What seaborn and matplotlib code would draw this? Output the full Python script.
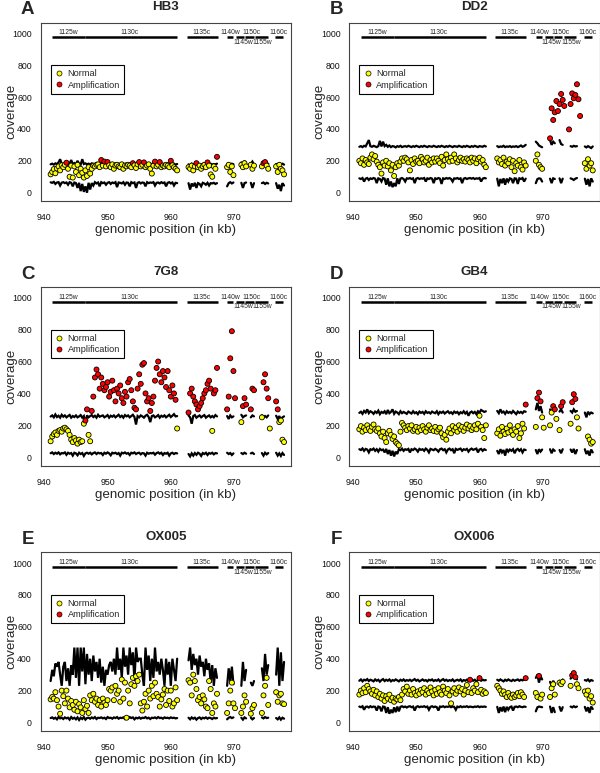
import numpy as np
import pandas as pd
import matplotlib
matplotlib.use("Agg")
import matplotlib.pyplot as plt
from matplotlib.lines import Line2D
import seaborn as sns

sns.set_theme(style="white")
plt.rcParams["font.family"] = ["Liberation Sans", "DejaVu Sans"]

n = np.nan

# ---------------- data ----------------
pos = [
    941.0, 941.25, 941.5, 941.75, 942.0, 942.25, 942.5, 942.75,
    943.0, 943.25, 943.5, 943.75, 944.0, 944.25, 944.5, 944.75,
    945.0, 945.25, 945.5, 945.75, 946.0, 946.25, 946.5, 946.75,
    947.0, 947.25, 947.5, 947.75, 948.0, 948.25, 948.5, 948.75,
    949.0, 949.25, 949.5, 949.75, 950.0, 950.25, 950.5, 950.75,
    951.0, 951.25, 951.5, 951.75, 952.0, 952.25, 952.5, 952.75,
    953.0, 953.25, 953.5, 953.75, 954.0, 954.25, 954.5, 954.75,
    955.0, 955.25, 955.5, 955.75, 956.0, 956.25, 956.5, 956.75,
    957.0, 957.25, 957.5, 957.75, 958.0, 958.25, 958.5, 958.75,
    959.0, 959.25, 959.5, 959.75, 960.0, 960.25, 960.5, 960.75,
    961.0,
    962.8, 963.05, 963.3, 963.55, 963.8, 964.05, 964.3, 964.55, 964.8, 965.05,
    965.3, 965.55, 965.8, 966.05, 966.3, 966.55, 966.8, 967.05, 967.3,
    968.9, 969.15, 969.4, 969.65, 969.9, 970.15, 970.4, 970.65, 970.9, 971.15,
    971.4, 971.65, 971.9, 972.15, 972.4, 972.65, 972.9, 973.15, 973.4, 973.65,
    973.9, 974.15, 974.4, 974.65, 974.9, 975.15, 975.4, 975.65, 975.9, 976.15,
    976.4, 976.65, 976.9, 977.15, 977.4, 977.65, 977.9,
]

panel_letters = ["A", "B", "C", "D", "E", "F"]
strains = ["HB3", "DD2", "7G8", "GB4", "OX005", "OX006"]

gene_names = ["1125w", "1130c", "1135c", "1140w", "1145w", "1150c", "1155w", "1160c"]
gene_start = [941.2, 946.5, 962.5, 968.9, 970.3, 971.8, 973.3, 976.5]
gene_end = [946.5, 961.0, 967.4, 969.9, 971.6, 973.1, 975.3, 977.8]
gene_label_below = [False, False, False, False, True, False, True, False]
gene_label_x = [943.8, 953.5, 964.8, 969.4, 971.4, 972.8, 974.5, 977.1]

# ---- HB3 ----
upper_hb3 = [
    178, 182, 176, 184, 180, 190, 210, 182,
    178, 185, 180, 176, 183, 205, 180, 186,
    178, 200, 182, 176, 210, 180, 184, 178,
    182, 176, 184, 180, 178, 186, 180, 176,
    184, 180, 178, 186, 180, 176, 184, 180,
    178, 184, 180, 176, 182, 186, 178, 180,
    184, 178, 180, 186, 176, 182, 180, 184,
    178, 180, 186, 176, 182, 180, 184, 178,
    180, 186, 178, 182, 176, 184, 180, 178,
    182, 176, 184, 180, 178, 186, 182, 176,
    180,
    178, 170, 182, 176, 180, 174, 182, 178, 176, 180,
    184, 176, 180, 178, 182, 176, 180, 178, 182,
    178, 185, 176, 182, 178, n, n, n, n, 190,
    176, 200, 180, n, n, 182, 195, 176, n, n,
    n, n, 180, 176, 184, 178, 182, n, n, n,
    n, 180, 176, 184, 178, 182, 176,
]
lower_hb3 = [
    65, 62, 68, 55, 64, 66, 45, 63,
    66, 60, 64, 50, 66, 62, 40, 64,
    60, 30, 62, 10, 55, 5, 40, 0,
    62, 20, 60, 45, 66, 58, 64, 40,
    66, 60, 64, 50, 62, 66, 55, 64,
    60, 66, 35, 64, 62, 58, 66, 50,
    64, 62, 40, 66, 60, 64, 30, 62,
    66, 58, 64, 62, 40, 66, 60, 64,
    62, 66, 45, 62, 64, 58, 66, 60,
    64, 40, 62, 66, 58, 64, 45, 62,
    60,
    60, 20, 58, 40, 62, 30, 60, 55, 40, 62,
    58, 50, 62, 45, 60, 58, 62, 55, 60,
    40, 60, 66, 58, 64, n, n, n, n, 62,
    30, 60, 64, n, n, 62, 30, 60, n, n,
    n, n, 60, 64, 55, 62, 58, n, n, n,
    n, 60, 25, 50, 10, 60, 45,
]
cov_hb3 = [
    115, 130, 148, 122, 152, 165, 140, 172,
    160, 175, 188, 150, 100, 170, 95, 165,
    130, 175, 110, 150, 125, 95, 140, 105,
    160, 120, 150, 170, 165, 175, 178, 160,
    205, 170, 195, 165, 192, 172, 160, 178,
    150, 170, 175, 165, 160, 178, 150, 170,
    165, 175, 170, 160, 185, 172, 155, 178,
    192, 165, 175, 190, 160, 170, 178, 150,
    120, 170, 195, 165, 175, 192, 160, 170,
    165, 175, 170, 160, 200, 172, 160, 150,
    140,
    160, 150, 170, 140, 165, 185, 160, 170, 150, 165,
    175, 160, 190, 170, 115, 100, 165, 150, 225,
    160, 175, 130, 165, 110, n, n, n, n, 175,
    160, 185, 165, n, n, 175, 150, 170, n, n,
    n, n, 165, 185, 192, 170, 150, n, n, n,
    n, 165, 130, 175, 150, 140, 115,
]

# ---- DD2 ----
upper_dd2 = [
    288, 292, 286, 294, 290, 310, 330, 292,
    288, 294, 290, 286, 292, 325, 290, 320,
    292, 300, 288, 296, 286, 292, 290, 284,
    292, 288, 294, 286, 290, 292, 288, 294,
    290, 286, 292, 288, 294, 290, 286, 292,
    288, 294, 290, 286, 292, 290, 288, 294,
    290, 286, 292, 288, 294, 290, 286, 292,
    288, 294, 290, 286, 292, 290, 288, 294,
    290, 286, 292, 288, 294, 290, 286, 292,
    288, 294, 290, 286, 292, 290, 288, 294,
    290,
    292, 286, 290, 288, 294, 286, 290, 288, 292, 286,
    290, 288, 292, 286, 290, 296, 288, 292, 300,
    320, 310, 296, 290, 285, n, n, n, n, 330,
    300, 320, 310, n, n, 330, 305, 300, n, n,
    n, n, 292, 288, 294, 290, 292, n, n, n,
    n, 290, 284, 292, 286, 280, 290,
]
lower_dd2 = [
    90, 86, 92, 70, 88, 92, 80, 90,
    86, 92, 88, 60, 90, 86, 70, 92,
    88, 50, 90, 40, 70, 35, 60, 40,
    90, 55, 88, 92, 86, 70, 90, 88,
    92, 86, 90, 60, 88, 92, 86, 90,
    88, 92, 70, 90, 86, 92, 88, 60,
    90, 86, 92, 88, 55, 90, 86, 92,
    88, 92, 86, 70, 90, 88, 92, 86,
    90, 60, 88, 92, 86, 90, 92, 88,
    92, 86, 90, 88, 92, 70, 88, 92,
    90,
    88, 40, 86, 60, 90, 50, 88, 70, 90, 86,
    60, 90, 88, 55, 90, 86, 92, 70, 88,
    60, 85, 90, 88, 70, n, n, n, n, 88,
    60, 90, 86, n, n, 90, 60, 88, n, n,
    n, n, 90, 86, 80, 88, 92, n, n, n,
    n, 88, 50, 86, 40, 90, 70,
]
cov_dd2 = [
    200, 185, 215, 175, 205, 190, 180, 220,
    240, 210, 230, 195, 175, 160, 120, 190,
    170, 200, 165, 185, 140, 175, 105, 160,
    185, 170, 195, 215, 200, 220, 210, 190,
    140, 205, 180, 215, 195, 200, 185, 225,
    210, 190, 200, 220, 175, 205, 190, 215,
    195, 215, 200, 185, 225, 170, 205, 240,
    210, 195, 220, 200, 240, 215, 190, 205,
    220, 200, 210, 195, 215, 205, 190, 220,
    200, 215, 185, 210, 220, 195, 205, 175,
    160,
    215, 190, 205, 180, 220, 170, 195, 185, 210, 160,
    200, 135, 185, 170, 205, 160, 145, 190, 170,
    200, 240, 175, 160, 150, n, n, n, n, 341,
    529, 456, 504, 575, 512, 556, 619, 582, 544, n,
    n, 397, 556, 623, 592, 613, 680, 586, 481, n,
    n, 185, 150, 210, 170, 185, 140,
]

# ---- 7G8 ----
upper_7g8 = [
    255, 262, 250, 268, 252, 260, 248, 266,
    254, 262, 250, 258, 265, 248, 258, 252,
    262, 250, 256, 264, 248, 258, 210, 262,
    250, 258, 264, 252, 260, 248, 266, 254,
    258, 262, 250, 256, 264, 248, 260, 254,
    262, 250, 258, 266, 252, 260, 248, 264,
    256, 262, 250, 258, 266, 252, 205, 258,
    250, 262, 256, 248, 260, 266, 252, 220,
    258, 262, 250, 256, 264, 248, 260, 254,
    262, 250, 258, 266, 252, 260, 270, 256,
    258,
    262, 250, 210, 258, 264, 248, 256, 262, 250, 258,
    264, 248, 256, 262, 250, 258, 250, 264, 256,
    258, 240, 262, 250, 256, n, n, n, n, 266,
    250, 258, 262, n, n, 250, 262, 256, n, n,
    n, n, 264, 248, 258, 250, 262, n, n, n,
    n, 260, 240, 258, 235, 250, 256,
]
lower_7g8 = [
    25, 30, 20, 28, 22, 30, 18, 26,
    24, 30, 15, 28, 22, 26, 10, 28,
    24, 12, 28, 20, 26, 8, 24, 28,
    22, 28, 18, 26, 30, 20, 28, 24,
    26, 14, 28, 22, 30, 24, 12, 28,
    24, 28, 20, 26, 10, 28, 24, 30,
    22, 26, 14, 28, 24, 30, 20, 26,
    28, 18, 26, 24, 10, 28, 22, 26,
    24, 28, 16, 26, 30, 22, 28, 14,
    26, 22, 28, 10, 24, 28, 20, 26,
    24,
    20, 5, 24, 10, 26, 15, 28, 22, 8, 26,
    20, 28, 14, 26, 22, 28, 18, 26, 24,
    28, 20, 26, 14, 24, n, n, n, n, 26,
    20, 28, 22, n, n, 24, 28, 20, n, n,
    n, n, 26, 10, 28, 18, 26, n, n, n,
    n, 28, 10, 24, 8, 26, 14,
]
cov_7g8 = [
    100, 130, 145, 155, 140, 165, 170, 160,
    180, 185, 175, 165, 140, 110, 95, 120,
    105, 85, 110, 95, 100, 210, 230, 300,
    140, 100, 290, 380, 500, 550, 520, 430,
    500, 460, 420, 440, 470, 380, 410, 480,
    420, 350, 430, 400, 450, 370, 340, 410,
    380, 470, 490, 420, 350, 310, 300, 430,
    520, 460, 580, 590, 400, 350, 370, 290,
    340, 380, 480, 560, 600, 520, 470, 540,
    500, 440, 540, 420, 380, 450, 400, 360,
    180,
    280, 400, 430, 380, 350, 330, 300, 320, 340, 370,
    400, 420, 460, 480, 430, 165, 400, 420, 560,
    300, 380, 620, 790, 540, 370, n, n, n, 220,
    320, 370, 330, n, n, 300, 430, 420, n, n,
    n, n, 250, 470, 520, 430, 370, 180, n, n,
    n, 350, 300, 220, 230, 110, 95,
]

# ---- GB4 ----
upper_gb4 = [
    278, 285, 272, 290, 280, 300, 276, 288,
    282, 272, 286, 278, 292, 270, 284, 278,
    288, 270, 296, 276, 284, 300, 272, 286,
    280, 270, 288, 276, 284, 278, 272, 286,
    280, 274, 288, 276, 282, 270, 286, 278,
    284, 272, 288, 278, 282, 274, 286, 280,
    276, 288, 270, 284, 278, 286, 274, 282,
    288, 276, 282, 272, 286, 278, 284, 270,
    282, 276, 288, 274, 284, 260, 280, 286,
    276, 284, 270, 288, 280, 296, 290, 284,
    288,
    290, 276, 300, 280, 286, 272, 288, 278, 284, 276,
    290, 280, 270, 286, 278, 284, 276, 288, 285,
    300, 340, 290, 320, 280, n, n, n, n, 300,
    280, 310, 290, n, n, 286, 300, 280, n, n,
    n, n, 290, 280, 300, 285, 290, n, n, n,
    n, 280, 250, 285, 270, 280, 275,
]
lower_gb4 = [
    50, 45, 55, 40, 52, 48, 30, 50,
    46, 54, 40, 50, 35, 52, 44, 48,
    30, 52, 20, 45, 10, 40, 5, 35,
    20, 50, 44, 54, 40, 50, 46, 52,
    30, 50, 45, 54, 48, 35, 52, 46,
    50, 40, 54, 46, 30, 52, 48, 44,
    52, 46, 35, 50, 54, 44, 50, 30,
    48, 54, 44, 50, 25, 52, 46, 50,
    54, 40, 50, 46, 52, 35, 48, 54,
    46, 50, 54, 30, 48, 52, 40, 50,
    45,
    40, 20, 50, 30, 45, 10, 52, 35, 48, 40,
    50, 25, 46, 52, 40, 50, 30, 48, 45,
    45, 20, 50, 35, 48, n, n, n, n, 50,
    25, 48, 40, n, n, 45, 25, 50, n, n,
    n, n, 48, 30, 52, 20, 45, n, n, n,
    n, 50, 20, 40, 10, 48, 30,
]
cov_gb4 = [
    175, 195, 160, 185, 170, 200, 180, 165,
    190, 205, 175, 165, 180, 150, 130, 160,
    120, 95, 150, 165, 140, 115, 130, 95,
    85, 75, 160, 215, 200, 185, 170, 195,
    180, 200, 165, 175, 190, 160, 185, 170,
    195, 175, 160, 185, 200, 170, 180, 165,
    190, 160, 175, 185, 150, 125, 140, 110,
    160, 180, 150, 195, 170, 185, 160, 200,
    175, 190, 165, 185, 205, 180, 195, 170,
    185, 200, 175, 210, 260, 190, 170, 120,
    200,
    150, 175, 135, 190, 160, 145, 180, 155, 200, 165,
    140, 175, 160, 195, 120, 150, 210, 180, 330,
    190, 370, 405, 350, 250, 185, n, n, n, 200,
    280, 320, 300, 240, n, 170, 320, 345, n, n,
    n, n, 210, 345, 395, 365, 250, 180, n, n,
    n, n, n, 130, 110, 85, 95,
]

# ---- OX005 ----
upper_ox005 = [
    260, 330, 290, 370, 350, 380, 300, 230,
    350, 380, 260, 340, 230, 360, 300, 470,
    280, 470, 230, 470, 320, 470, 240, 430,
    300, 400, 260, 420, 320, 380, 280, 400,
    250, 350, 230, 330, 300, 360, 380, 320,
    400, 300, 470, 330, 400, 280, 470, 350,
    420, 300, 470, 360, 440, 260, 470, 380,
    400, 400, 300, 230, 470, 330, 420, 260,
    400, 280, 470, 320, 380, 300, 400, 330,
    230, 400, 300, 380, 230, 400, 330, 260,
    400,
    390, 470, 330, 430, 360, 400, 300, 420, 350, 380,
    290, 400, 330, 370, 250, 360, 230, 340, 280,
    230, 340, 260, 350, 240, n, n, n, n, 230,
    380, 260, 330, n, n, 250, 230, 260, n, n,
    n, n, 340, 260, 430, 300, 360, n, n, n,
    n, 300, 470, 230, 440, 260, 380,
]
lower_ox005 = [
    28, 32, 24, 30, 20, 34, 26, 30,
    22, 32, 26, 30, 18, 34, 24, 30,
    20, 32, 16, 30, 22, 34, 18, 28,
    30, 24, 32, 26, 34, 22, 30, 28,
    32, 26, 30, 22, 34, 28, 30, 24,
    32, 28, 34, 24, 30, 28, 32, 22,
    30, 26, 34, 28, 32, 20, 30, 26,
    32, 24, 30, 28, 34, 26, 30, 22,
    30, 28, 32, 26, 34, 28, 30, 24,
    32, 28, 30, 26, 32, 28, 30, 26,
    28,
    30, 20, 32, 24, 30, 18, 28, 32, 22, 30,
    26, 32, 24, 30, 28, 22, 30, 26, 28,
    20, 30, 34, 28, 32, n, n, n, n, 30,
    18, 32, 26, n, n, 30, 20, 28, n, n,
    n, n, 32, 26, 34, 28, 30, n, n, n,
    n, 28, 20, 32, 18, 30, 24,
]
cov_ox005 = [
    145, 160, 150, 190, 140, 100, 55, 200,
    165, 120, 200, 150, 95, 135, 110, 80,
    130, 70, 115, 95, 60, 140, 85, 105,
    60, 170, 140, 180, 130, 150, 110, 140,
    100, 150, 125, 110, 140, 210, 200, 220,
    140, 230, 180, 200, 130, 270, 150, 250,
    30, 200, 120, 240, 280, 230, 290, 260,
    300, 120, 75, 130, 180, 100, 200, 150,
    230, 165, 250, 180, 160, 100, 145, 175,
    210, 110, 200, 135, 200, 100, 120, 220,
    140,
    265, 250, 170, 300, 260, 210, 140, 160, 120, 170,
    145, 100, 90, 260, 210, 60, 120, 100, 180,
    60, 120, 200, 250, 120, 90, n, n, n, 60,
    100, 170, 130, n, n, 55, 90, 110, n, n,
    n, n, 60, 170, 230, 280, 110, n, n, n,
    n, 190, 130, 170, 180, 120, 115,
]

# ---- OX006 ----
upper_ox006 = [
    262, 270, 258, 268, 264, 272, 260, 268,
    264, 258, 270, 262, 268, 256, 266, 272,
    260, 268, 262, 270, 258, 266, 262, 270,
    264, 258, 268, 262, 270, 260, 266, 262,
    268, 260, 266, 272, 262, 268, 258, 264,
    270, 262, 266, 258, 268, 264, 270, 260,
    266, 262, 270, 258, 266, 272, 262, 268,
    260, 266, 262, 270, 258, 264, 268, 262,
    270, 258, 266, 262, 268, 260, 264, 270,
    262, 268, 258, 266, 270, 262, 268, 264,
    266,
    268, 262, 270, 264, 258, 268, 262, 270, 264, 260,
    268, 262, 266, 270, 262, 268, 264, 270, 272,
    280, 300, 250, 290, 270, n, n, n, n, 255,
    230, 262, 240, n, n, 262, 255, 270, n, n,
    n, n, 275, 290, 285, 280, 270, n, n, n,
    n, 266, 262, 270, 258, 266, 262,
]
lower_ox006 = [
    100, 96, 102, 80, 98, 100, 94, 102,
    96, 100, 98, 75, 100, 96, 70, 100,
    98, 60, 96, 55, 80, 60, 95, 65,
    100, 70, 98, 102, 96, 100, 94, 100,
    102, 96, 100, 75, 98, 102, 96, 100,
    98, 102, 96, 100, 80, 98, 102, 96,
    100, 96, 75, 100, 98, 102, 96, 100,
    98, 102, 96, 100, 98, 80, 100, 96,
    102, 96, 100, 98, 102, 96, 100, 98,
    96, 100, 98, 102, 96, 100, 98, 100,
    98,
    98, 60, 96, 70, 100, 65, 98, 80, 96, 100,
    75, 98, 100, 96, 102, 98, 96, 100, 98,
    70, 95, 100, 98, 96, n, n, n, n, 100,
    60, 96, 65, n, n, 98, 70, 96, n, n,
    n, n, 100, 95, 102, 96, 100, n, n, n,
    n, 98, 70, 96, 60, 100, 85,
]
cov_ox006 = [
    175, 200, 185, 215, 190, 230, 210, 195,
    180, 205, 170, 195, 160, 180, 150, 170,
    135, 165, 150, 175, 140, 155, 130, 150,
    145, 160, 140, 175, 210, 195, 225, 180,
    200, 175, 210, 185, 170, 195, 180, 205,
    190, 215, 175, 200, 185, 220, 195, 170,
    205, 180, 215, 190, 175, 225, 200, 185,
    210, 170, 120, 195, 215, 180, 200, 220,
    195, 210, 175, 200, 235, 190, 268, 185,
    215, 200, 240, 190, 278, 205, 180, 195,
    185,
    230, 215, 200, 180, 195, 175, 160, 185, 165, 155,
    175, 160, 170, 185, 165, 190, 175, 160, 278,
    185, 160, 292, 150, 175, n, n, n, n, 160,
    215, 240, 175, n, n, 250, 240, 255, n, n,
    n, n, 230, 295, 310, 285, 240, 215, n, n,
    n, 195, 175, 200, 150, 165, 125,
]

coverage = [cov_hb3, cov_dd2, cov_7g8, cov_gb4, cov_ox005, cov_ox006]
upper = [upper_hb3, upper_dd2, upper_7g8, upper_gb4, upper_ox005, upper_ox006]
lower = [lower_hb3, lower_dd2, lower_7g8, lower_gb4, lower_ox005, lower_ox006]

for arrs in (coverage, upper, lower):
    for a in arrs:
        assert len(a) == len(pos), len(a)

# ---------------- figure ----------------
W, H = 600, 773
fig = plt.figure(figsize=(W / 100, H / 100), dpi=100)

lefts = [40.7, 349.4]
tops = [22.7, 287.2, 552.5]
aw, ah = 250.3, 178.3

x_arr = np.array(pos)
brk = np.where(np.diff(x_arr) > 0.3)[0] + 1


def with_breaks(v):
    xv = np.insert(x_arr, brk, np.nan)
    yv = np.insert(np.array(v, dtype=float), brk, np.nan)
    return xv, yv


palette = {"Normal": "#FFFF00", "Amplification": "#FF0000"}
box_col = "#444444"

for k in range(6):
    r, c = divmod(k, 2)
    L, T = lefts[c], tops[r]
    ax = fig.add_axes([L / W, 1 - (T + ah) / H, aw / W, ah / H])

    cov = np.array(coverage[k], dtype=float)
    thr = pd.Series(upper[k], dtype=float).ffill().bfill().values
    status = np.where(cov > thr, "Amplification", "Normal")
    df = pd.DataFrame({"pos": pos, "coverage": cov, "status": status}).dropna()

    sns.scatterplot(data=df, x="pos", y="coverage", hue="status",
                    hue_order=["Normal", "Amplification"], palette=palette,
                    s=13, edgecolor="black", linewidth=0.6, legend=False,
                    ax=ax, zorder=3)

    for band in (upper[k], lower[k]):
        xv, yv = with_breaks(band)
        ax.plot(xv, yv, color="black", lw=1.6, zorder=2, solid_joinstyle="miter")

    # gene annotation
    ax.hlines([975] * len(gene_names), gene_start, gene_end, color="black", lw=1.8)
    for g, gx, below in zip(gene_names, gene_label_x, gene_label_below):
        if below:
            ax.text(gx, 964, g, ha="center", va="top", fontsize=4.9)
        else:
            ax.text(gx, 982, g, ha="center", va="bottom", fontsize=4.9)

    ax.set_xlim(939.43, 979.0)
    ax.set_ylim(-52, 1066)
    ax.set_xticks([940, 950, 960, 970])
    ax.set_yticks([0, 200, 400, 600, 800, 1000])
    ax.set_xlabel("genomic position (in kb)", fontsize=9.6)
    ax.set_ylabel("coverage", fontsize=9.6)
    ax.xaxis.set_label_coords(0.5, -0.13)
    ax.yaxis.set_label_coords(-0.095, 0.5)
    ax.tick_params(axis="both", direction="out", length=4, width=0.7,
                   color=box_col, labelsize=6.3, labelcolor="#111111")
    ax.tick_params(axis="x", pad=5)
    ax.tick_params(axis="y", pad=2.4)
    for sp in ax.spines.values():
        sp.set_color(box_col)
        sp.set_linewidth(0.8)

    handles = [
        Line2D([], [], ls="none", marker="o", markersize=3.6,
               markerfacecolor=palette["Normal"], markeredgecolor="black",
               markeredgewidth=0.5),
        Line2D([], [], ls="none", marker="o", markersize=3.6,
               markerfacecolor=palette["Amplification"], markeredgecolor="black",
               markeredgewidth=0.5),
    ]
    leg = ax.legend(handles, ["Normal", "Amplification"], loc="upper left",
                    bbox_to_anchor=(0.04, 0.762), borderaxespad=0,
                    frameon=True, fancybox=False, fontsize=6.6,
                    handlelength=0.9, handletextpad=0.5, borderpad=0.45,
                    labelspacing=0.25)
    leg.get_frame().set_edgecolor("black")
    leg.get_frame().set_linewidth(0.8)
    leg.get_frame().set_alpha(1)

    # titles and panel letters (placed relative to each panel's top)
    fig.text((L + aw / 2) / W, 1 - (T - 15.4) / H, strains[k], ha="center",
             va="center", fontsize=9.6, fontweight="bold")
    fig.text((L - 13) / W, 1 - (T - 12.7) / H, panel_letters[k], ha="center",
             va="center", fontsize=13.5, fontweight="bold")

fig.savefig("out.png", dpi=100)
